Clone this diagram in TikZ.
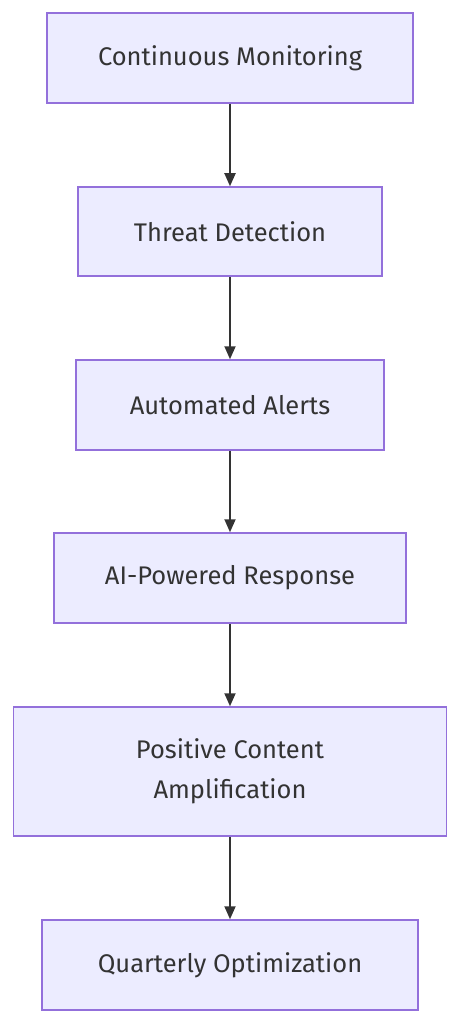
\documentclass[tikz,border=0pt]{standalone}
\usepackage{fontspec}
\setmainfont{Fira Sans}
\usetikzlibrary{arrows.meta}
\definecolor{boxfill}{HTML}{ECECFF}
\definecolor{boxline}{HTML}{9370DB}
\definecolor{txt}{HTML}{333333}
\begin{document}
\begin{tikzpicture}[x=1pt,y=-1pt,
  stepbox/.style={draw=boxline,fill=boxfill,line width=1.5pt,text=txt,
    font=\fontsize{25.5}{40}\selectfont,align=center,inner sep=0pt},
  flow/.style={draw=txt,line width=1.8pt,-{Triangle[length=13pt,width=11pt]}}]
\useasboundingbox (0,0) rectangle (460,1024);
\node[stepbox,minimum width=366pt,minimum height=90pt] (a) at (230,58) {Continuous Monitoring};
\node[stepbox,minimum width=304pt,minimum height=89pt] (b) at (230,231.5) {Threat Detection};
\node[stepbox,minimum width=308pt,minimum height=90pt] (c) at (230,405) {Automated Alerts};
\node[stepbox,minimum width=352pt,minimum height=90pt] (d) at (230,578) {AI-Powered Response};
\node[stepbox,minimum width=433pt,minimum height=129pt] (e) at (230,771.5) {Positive Content\\Amplification};
\node[stepbox,minimum width=376pt,minimum height=90pt] (f) at (230,965) {Quarterly Optimization};
\draw[flow] (a) -- (b);
\draw[flow] (b) -- (c);
\draw[flow] (c) -- (d);
\draw[flow] (d) -- (e);
\draw[flow] (e) -- (f);
\end{tikzpicture}
\end{document}
